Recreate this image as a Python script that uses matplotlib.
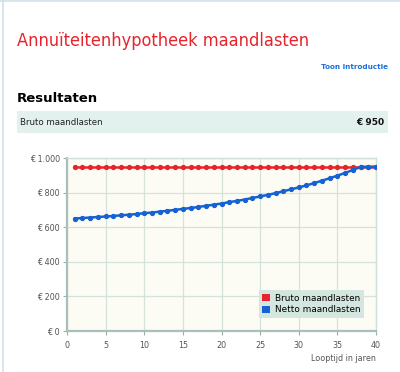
import numpy as np
import matplotlib.pyplot as plt
from matplotlib.patches import Rectangle, Patch
from matplotlib.lines import Line2D
from matplotlib.ticker import FuncFormatter

# data
jaren = list(range(1, 41))
bruto = [950] * 40
netto = [650, 653, 656, 659, 662, 665, 669, 672, 676, 681,
         685, 690, 695, 700, 706, 711, 717, 724, 730, 737,
         745, 752, 760, 769, 778, 787, 797, 808, 819, 830,
         842, 855, 869, 883, 898, 914, 931, 948, 950, 950]
y_ticks = [0, 200, 400, 600, 800, 1000]
x_ticks = [0, 5, 10, 15, 20, 25, 30, 35, 40]

rood = '#e8232b'
blauw = '#1562d4'

fig = plt.figure(figsize=(4, 3.72), dpi=100)
fig.patch.set_facecolor('white')

# paginarand
fig.add_artist(Line2D([0.008, 0.008], [0, 1], color='#cfe2e6', lw=1.2))
fig.add_artist(Line2D([0, 1], [0.996, 0.996], color='#cfe2e6', lw=1.2))

# koppen
titel = fig.text(0.0425, 0.876, 'Annuïteitenhypotheek maandlasten', color=rood,
                 fontsize=17, family='DejaVu Sans', fontstretch='condensed')
# titel op breedte brengen (ca. 289 px)
r = fig.canvas.get_renderer()
w = titel.get_window_extent(r).width
titel.set_fontsize(17 * 289 / w)

fig.text(0.97, 0.82, 'Toon introductie', color='#1a70d8', fontsize=5.2,
         fontweight='bold', ha='right', va='center', family='DejaVu Sans')
fig.text(0.0425, 0.735, 'Resultaten', color='black', fontsize=9.5,
         fontweight='bold', va='center', family='DejaVu Sans')
fig.add_artist(Rectangle((0.0425, 0.643), 0.927, 0.059, transform=fig.transFigure,
                         facecolor='#e3f1ee', edgecolor='none'))
fig.text(0.05, 0.672, 'Bruto maandlasten', fontsize=6.2, va='center',
         family='DejaVu Sans', color='#222222')
fig.text(0.962, 0.672, '€ 950', fontsize=6.5, va='center', ha='right',
         fontweight='bold', family='DejaVu Sans', color='#111111')

# grafiek
ax = fig.add_axes([0.1675, 0.1102, 0.7725, 0.465])
ax.set_facecolor('#fdfcf4')
ax.plot(jaren, bruto, color=rood, lw=1.8, marker='o', ms=2.8, zorder=3)
ax.plot(jaren, netto, color=blauw, lw=1.8, marker='o', ms=2.8, zorder=4)
ax.set_xlim(0, 40)
ax.set_ylim(0, 1000)
ax.set_xticks(x_ticks)
ax.set_yticks(y_ticks)
ax.yaxis.set_major_formatter(FuncFormatter(lambda v, p: '€ ' + f'{int(v):,}'.replace(',', '.')))
ax.grid(True, color='#d3e3dc', lw=0.9)
ax.set_axisbelow(True)
ax.tick_params(labelsize=5.8, colors='#9aaeaa', labelcolor='#555555', length=3, width=0.8, pad=2)
ax.tick_params(axis='x', pad=4)
for s in ['top', 'right']:
    ax.spines[s].set_color('#cfe0da')
    ax.spines[s].set_linewidth(1.0)
for s in ['left', 'bottom']:
    ax.spines[s].set_color('#a9c0ba')
    ax.spines[s].set_linewidth(1.6)
ax.set_xlabel('Looptijd in jaren', fontsize=5.8, color='#555555', loc='right', labelpad=3)

handles = [Patch(facecolor=rood, edgecolor='none'), Patch(facecolor=blauw, edgecolor='none')]
leg = ax.legend(handles, ['Bruto maandlasten', 'Netto maandlasten'], loc='lower right',
                fontsize=6.4, frameon=True, fancybox=False, handlelength=0.9, handleheight=0.9,
                handletextpad=0.5, borderpad=0.4, labelspacing=0.3,
                bbox_to_anchor=(0.975, 0.05))
leg.get_frame().set_facecolor('#d3e6df')
leg.get_frame().set_edgecolor('none')
leg.get_frame().set_alpha(1)

fig.savefig('out.png', dpi=100)
